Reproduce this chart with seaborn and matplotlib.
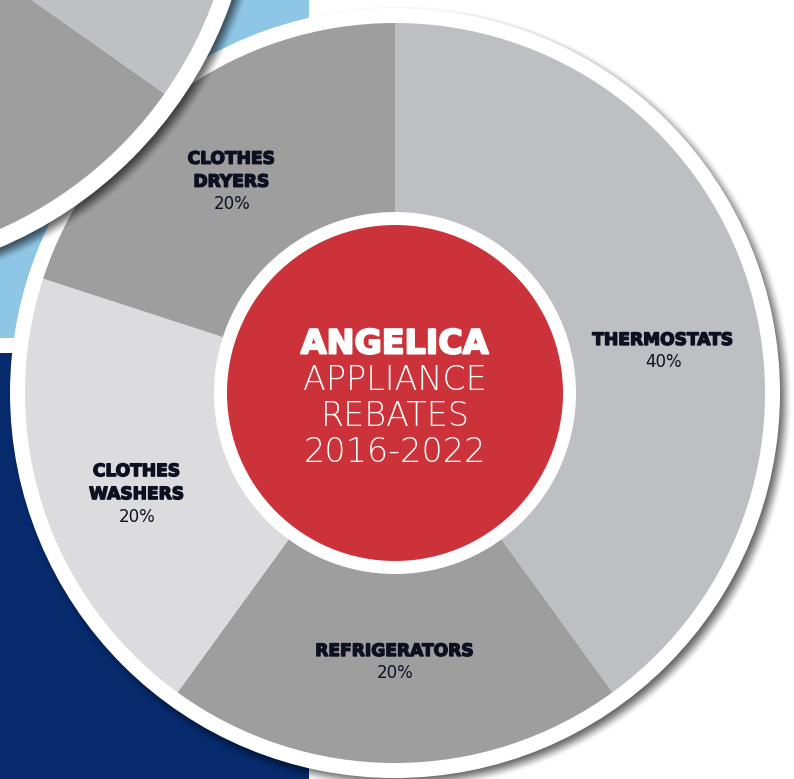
import numpy as np
import matplotlib.pyplot as plt
import matplotlib.patheffects as pe
import seaborn as sns
from matplotlib.patches import Circle, Rectangle

# main chart data
categories = ['THERMOSTATS', 'REFRIGERATORS', 'CLOTHES\nWASHERS', 'CLOTHES\nDRYERS']
shares = [40, 20, 20, 20]
slice_colors = ['#bdbfc3', '#9e9e9f', '#dcdcde', '#9e9e9f']
title_bold = 'ANGELICA'
title_lines = ['APPLIANCE', 'REBATES', '2016-2022']

# cropped neighbouring chart at the top-left corner
side_shares = [25, 75]
side_colors = ['#bec0c4', '#9e9e9f']

# label placement (radius in px, angle in degrees) for each slice
label_polar = [(270, 6.6), (280, -90), (286, -154.5), (250, 130.8)]

W, H = 794, 779
sns.set_theme(style='white')
fig = plt.figure(figsize=(W / 100, H / 100), dpi=100)
ax = fig.add_axes([0, 0, 1, 1])

yy, xx = np.mgrid[0:H, 0:W] + 0.5


def shadow(cx, cy, r, off=5, blur=16, a=0.6, z=1):
    d = np.hypot(xx - cx - off, yy - cy + off)
    img = np.zeros((H, W, 4))
    t = np.clip((r - d) / blur + 0.5, 0, 1)
    img[..., 3] = a * t * t * (3 - 2 * t)
    ax.imshow(img, extent=[0, W, 0, H], origin='lower', zorder=z,
              interpolation='bilinear')


# background blocks
ax.add_patch(Rectangle((0, H - 338), 309, 338, color='#8ec6e6', lw=0, zorder=0))
ax.add_patch(Rectangle((0, 0), 309, H - 353, color='#062a6c', lw=0, zorder=0))

# main donut
cx, cy = 395, H - 393
shadow(cx, cy, 385, z=1)
ax.add_patch(Circle((cx, cy), 385, color='white', lw=0, zorder=2))
wedges, _ = ax.pie(shares, colors=slice_colors, startangle=90, counterclock=False,
                   radius=370, center=(cx, cy),
                   wedgeprops=dict(linewidth=0, zorder=3))
ax.add_patch(Circle((cx, cy), 181, color='white', lw=0, zorder=4))
ax.add_patch(Circle((cx, cy), 168, color='#cb323a', lw=0, zorder=5))

ink = '#0d1020'
heavy = [pe.withStroke(linewidth=1.0, foreground=ink)]
for name, val, (r, ang) in zip(categories, shares, label_polar):
    x = cx + r * np.cos(np.radians(ang))
    y = cy + r * np.sin(np.radians(ang))
    ax.text(x, y - 5.5, f'{val}%', ha='center', va='baseline', fontsize=12,
            fontweight=300, color=ink, zorder=6)
    lines = name.split('\n')
    for i, ln in enumerate(reversed(lines)):
        ax.text(x, y - 6 + 23 * (i + 1), ln, ha='center', va='baseline',
                fontsize=12.3, fontweight='heavy', color=ink, zorder=6,
                path_effects=heavy)

ax.text(cx, H - 341 - 12.5, title_bold, ha='center', va='baseline', fontsize=24,
        fontweight='heavy', color='white', zorder=6,
        path_effects=[pe.withStroke(linewidth=1.5, foreground='white')])
for i, ln in enumerate(title_lines):
    ax.text(cx, H - (378 + 36 * i) - 11.5, ln, ha='center', va='baseline',
            fontsize=24, fontweight=200, color='white', zorder=6)

# neighbouring chart, partly off the canvas
sx, sy = -164, H + 138
shadow(sx, sy, 419, off=5, blur=16, a=0.6, z=7)
ax.add_patch(Circle((sx, sy), 419, color='white', lw=0, zorder=8))
ax.pie(side_shares, colors=side_colors, startangle=-35.2, counterclock=True,
       radius=402, center=(sx, sy), wedgeprops=dict(linewidth=0, zorder=9))

ax.set_xlim(0, W)
ax.set_ylim(0, H)
ax.set_aspect('equal')
ax.axis('off')
fig.savefig('out.png', dpi=100, facecolor='white')
